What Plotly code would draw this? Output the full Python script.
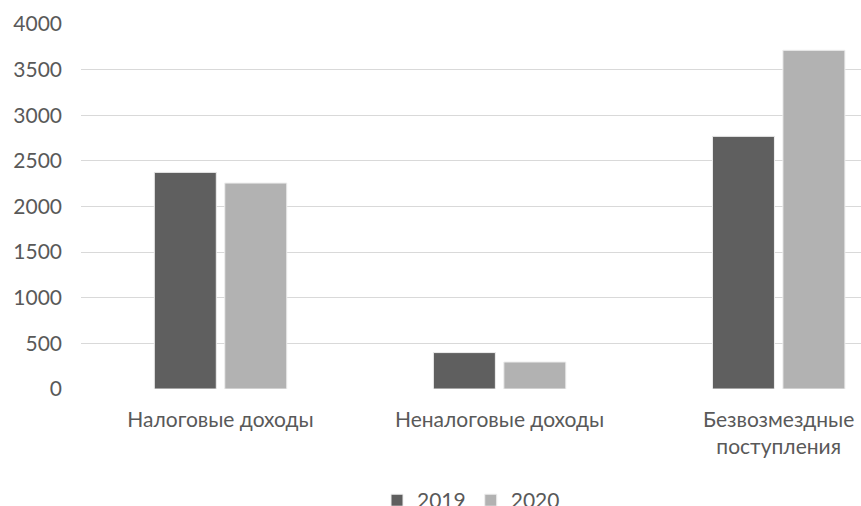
import plotly.graph_objects as go

categories = ["Налоговые доходы", "Неналоговые доходы", "Безвозмездные<br>поступления"]
series_names = ["2019", "2020"]
values_2019 = [2374, 399, 2769]
values_2020 = [2257, 296, 3712]
colors = ["#5f5f5f", "#b2b2b2"]
y_ticks = [0, 500, 1000, 1500, 2000, 2500, 3000, 3500, 4000]

FONT = "Lato"
TXT = "#595959"

fig = go.Figure()
for name, vals, col in zip(series_names, [values_2019, values_2020], colors):
    fig.add_trace(go.Bar(
        x=list(range(len(categories))), y=vals, name=name,
        marker=dict(color=col, line=dict(color="#eeeeee", width=1)),
    ))

fig.update_layout(
    width=861, height=506,
    margin=dict(l=81, r=0, t=24, b=117, autoexpand=False),
    paper_bgcolor="white", plot_bgcolor="white",
    barmode="group", bargap=0.495, bargroupgap=0.12,
    font=dict(family=FONT, size=21, color=TXT),
    showlegend=True,
    legend=dict(orientation="h", x=0.50, xanchor="center", y=-0.2495, yanchor="top",
                font=dict(family=FONT, size=21, color=TXT), itemwidth=30),
    xaxis=dict(
        tickmode="array", tickvals=list(range(len(categories))), ticktext=categories,
        range=[-0.5, 2.295], showgrid=False, zeroline=False, showline=False,
        ticks="", tickfont=dict(family=FONT, size=21, color=TXT), ticklabelstandoff=16,
        automargin=False,
    ),
    yaxis=dict(
        range=[0, 4000], tickvals=y_ticks, showgrid=True, gridcolor="#d9d9d9",
        gridwidth=1, zeroline=False, showline=False, ticks="",
        tickfont=dict(family=FONT, size=21, color=TXT), ticklabelstandoff=18,
        automargin=False,
    ),
)

fig.write_html("out.html", config={"displayModeBar": False},
               post_script="document.body.style.margin='0';document.body.style.overflow='hidden';")
